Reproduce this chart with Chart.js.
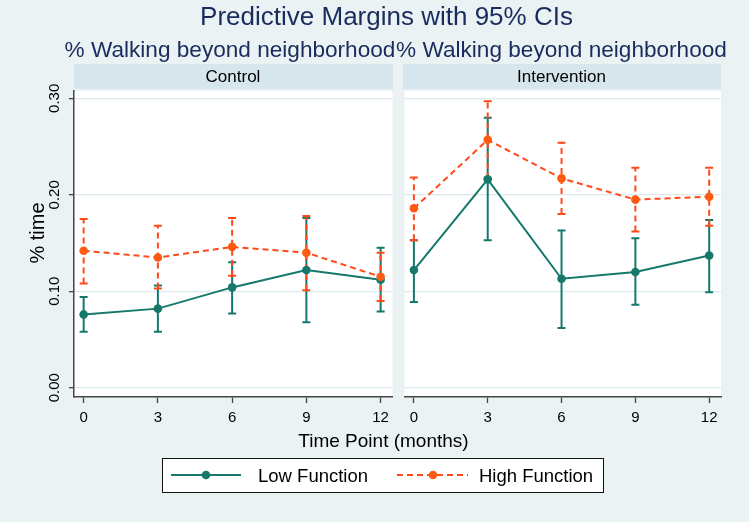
<!DOCTYPE html>
<html>
<head>
<meta charset="utf-8">
<script src="https://cdn.jsdelivr.net/npm/chart.js@4.4.1/dist/chart.umd.min.js"></script>
<style>
  html, body { margin: 0; padding: 0; }
  body {
    width: 749px; height: 522px; overflow: hidden; position: relative;
    background: #EAF2F3;
    font-family: 'Liberation Sans', Arial, sans-serif;
  }
  .txt { position: absolute; line-height: 1; white-space: nowrap; }
  .strip { position: absolute; background: #D7E6EC; }
  canvas { position: absolute; }
  #legend { position: absolute; left: 162px; top: 458px; width: 440px; height: 33px;
    background: #fff; border: 1px solid #111; }
</style>
</head>
<body>
<div class="strip" style="left:74px;top:64px;width:318.5px;height:25px"></div>
<div class="strip" style="left:402.5px;top:64px;width:318.5px;height:25px"></div>

<canvas id="ctrl" width="400" height="350" style="left:0;top:80px"></canvas>
<canvas id="intv" width="349" height="350" style="left:400px;top:80px"></canvas>

<div id="legend"></div>
<svg width="749" height="522" style="position:absolute;left:0;top:0">
  <line x1="171" y1="475" x2="241" y2="475" stroke="#15786A" stroke-width="2"/>
  <circle cx="206" cy="475" r="4.3" fill="#15786A"/>
  <line x1="397" y1="475" x2="468" y2="475" stroke="#FF4A1A" stroke-width="2" stroke-dasharray="6,4"/>
  <circle cx="433" cy="475" r="4.3" fill="#FF5A14"/>
</svg>

<script>
// data
const months = [0, 3, 6, 9, 12];
const yTicks = [0, 0.1, 0.2, 0.3];

const ctrlLow   = [0.076, 0.082, 0.104, 0.122, 0.112];
const ctrlLowLo = [0.058, 0.058, 0.077, 0.068, 0.079];
const ctrlLowHi = [0.094, 0.106, 0.130, 0.176, 0.145];
const ctrlHigh   = [0.142, 0.135, 0.146, 0.140, 0.115];
const ctrlHighLo = [0.108, 0.103, 0.116, 0.101, 0.090];
const ctrlHighHi = [0.175, 0.168, 0.176, 0.178, 0.140];

const intLow   = [0.122, 0.216, 0.113, 0.120, 0.137];
const intLowLo = [0.089, 0.153, 0.062, 0.086, 0.099];
const intLowHi = [0.153, 0.280, 0.163, 0.155, 0.174];
const intHigh   = [0.186, 0.257, 0.217, 0.195, 0.198];
const intHighLo = [0.153, 0.217, 0.180, 0.162, 0.168];
const intHighHi = [0.218, 0.297, 0.254, 0.228, 0.228];

const TEAL = '#15786A';
const ORANGE_LINE = '#FF4A1A';
const ORANGE = '#FF5A14';
const AXIS = '#444';
const FONT = "'Liberation Sans', Arial, sans-serif";

Chart.defaults.font.family = FONT;

// text helper: x is centre (or left if align=left), base is baseline y
function text(str, x, base, size, color, align, extra) {
  const d = document.createElement('div');
  d.className = 'txt';
  d.textContent = str;
  d.style.fontSize = size + 'px';
  d.style.color = color;
  d.style.top = (base - 0.8465 * size) + 'px';
  if (align === 'left') {
    d.style.left = x + 'px';
  } else {
    d.style.left = (x - 400) + 'px';
    d.style.width = '800px';
    d.style.textAlign = 'center';
  }
  if (extra) Object.assign(d.style, extra);
  document.body.appendChild(d);
  return d;
}

const NAVY = '#1A2B5E';
text('Predictive Margins with 95% CIs', 386.5, 25.5, 26, NAVY);
text('% Walking beyond neighborhood', 230, 58, 22.6, NAVY);
text('% Walking beyond neighborhood', 561.5, 58, 22.6, NAVY);
text('Control', 233, 82, 17, '#000');
text('Intervention', 561.5, 82, 17, '#000');
text('Time Point (months)', 383.5, 447, 19, '#000');
text('Low Function', 258, 483, 18.5, '#000', 'left');
text('High Function', 479, 483, 18.5, '#000', 'left');
text('% time', 0, 0, 20, '#000', 'left', { left: '37px', top: '233px',
  transform: 'translate(-50%,-50%) rotate(-90deg)' });

const plotBg = {
  id: 'plotBg',
  beforeDraw(chart) {
    const a = chart.chartArea, ctx = chart.ctx;
    ctx.save();
    ctx.fillStyle = '#fff';
    ctx.fillRect(a.left, a.top, a.right - a.left, a.bottom - a.top);
    ctx.restore();
  }
};

const errorBars = {
  id: 'errorBars',
  beforeDatasetsDraw(chart) {
    const ctx = chart.ctx, xs = chart.scales.x, ys = chart.scales.y;
    // draw last dataset first so dataset 0 sits on top
    for (let d = chart.data.datasets.length - 1; d >= 0; d--) {
      const ds = chart.data.datasets[d];
      ctx.save();
      ctx.strokeStyle = ds.borderColor;
      ctx.lineWidth = 2;
      ctx.setLineDash(ds.borderDash || []);
      ds.data.forEach((p, i) => {
        const x = xs.getPixelForValue(p.x);
        const y1 = ys.getPixelForValue(ds.ciLo[i]);
        const y2 = ys.getPixelForValue(ds.ciHi[i]);
        ctx.beginPath();
        ctx.moveTo(x, y1); ctx.lineTo(x, y2);
        ctx.stroke();
        ctx.save();
        ctx.setLineDash([]);
        ctx.beginPath();
        ctx.moveTo(x - 4, y1); ctx.lineTo(x + 4, y1);
        ctx.moveTo(x - 4, y2); ctx.lineTo(x + 4, y2);
        ctx.stroke();
        ctx.restore();
      });
      ctx.restore();
    }
  }
};

const yLabels = {
  id: 'yLabels',
  afterDraw(chart) {
    if (!chart.options.plugins.yLabels.show) return;
    const ctx = chart.ctx, ys = chart.scales.y;
    ctx.save();
    ctx.fillStyle = '#000';
    ctx.font = '15px ' + FONT;
    ctx.textAlign = 'center';
    ctx.textBaseline = 'middle';
    yTicks.forEach(v => {
      ctx.save();
      ctx.translate(55, ys.getPixelForValue(v));
      ctx.rotate(-Math.PI / 2);
      ctx.fillText(v.toFixed(2), 0, 0);
      ctx.restore();
    });
    ctx.restore();
  }
};

function makePanel(id, low, lowLo, lowHi, high, highLo, highHi, showY) {
  const pts = arr => months.map((m, i) => ({ x: m, y: arr[i] }));
  return new Chart(document.getElementById(id), {
    type: 'line',
    data: {
      datasets: [
        {
          data: pts(high), ciLo: highLo, ciHi: highHi,
          borderColor: ORANGE_LINE, borderWidth: 2, borderDash: [6, 4],
          pointRadius: 4.3, pointBackgroundColor: ORANGE, pointBorderWidth: 0,
          tension: 0
        },
        {
          data: pts(low), ciLo: lowLo, ciHi: lowHi,
          borderColor: TEAL, borderWidth: 2,
          pointRadius: 4.3, pointBackgroundColor: TEAL, pointBorderWidth: 0,
          tension: 0
        }
      ]
    },
    options: {
      responsive: false,
      animation: false,
      events: [],
      layout: { padding: { top: 11, left: 0, bottom: 0, right: showY ? 7.5 : 28 } },
      plugins: { legend: { display: false }, tooltip: { enabled: false },
        yLabels: { show: showY } },
      scales: {
        x: {
          type: 'linear', min: -0.39, max: 12.48,
          afterBuildTicks: s => { s.ticks = months.map(v => ({ value: v })); },
          afterFit: s => { s.height = 33; },
          ticks: { color: '#000', font: { size: 15 }, padding: 6, maxRotation: 0,
            autoSkip: false, callback: v => String(v) },
          grid: { drawOnChartArea: false, drawTicks: true, tickLength: 6,
            tickColor: AXIS, tickWidth: 1.3 },
          border: { display: true, color: AXIS, width: 1.5 }
        },
        y: {
          type: 'linear', min: -0.0096, max: 0.3076,
          afterBuildTicks: s => { s.ticks = yTicks.map(v => ({ value: v })); },
          afterFit: s => { s.width = showY ? 74 : 2.5; },
          ticks: { display: false },
          grid: { color: '#DCEAEE', lineWidth: 1.3, drawTicks: showY, tickLength: 5,
            tickColor: AXIS, tickWidth: 1.3 },
          border: { display: showY, color: AXIS, width: 1.5 }
        }
      }
    },
    plugins: [plotBg, errorBars, yLabels]
  });
}

makePanel('ctrl', ctrlLow, ctrlLowLo, ctrlLowHi, ctrlHigh, ctrlHighLo, ctrlHighHi, true);
makePanel('intv', intLow, intLowLo, intLowHi, intHigh, intHighLo, intHighHi, false);
</script>
</body>
</html>
